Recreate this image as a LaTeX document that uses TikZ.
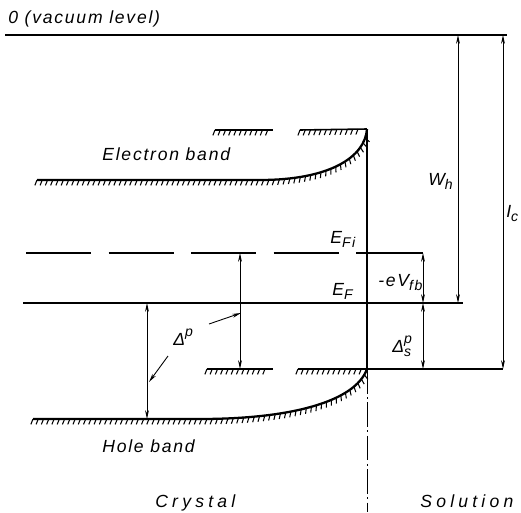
\documentclass[tikz,border=0pt]{standalone}
\usepackage{fontspec}
\setmainfont{Liberation Sans}
\usetikzlibrary{arrows.meta,decorations.pathreplacing}
\newcommand\lsub[1]{\raisebox{-0.5ex}{\footnotesize #1}}
\newcommand\lsup[1]{\raisebox{0.9ex}{\footnotesize #1}}

\begin{document}
\begin{tikzpicture}[x=0.02cm, y=0.02cm,
        every node/.style={inner sep=0pt, anchor=base west, font=\itshape\addfontfeature{LetterSpace=10}},
        lvl/.style={line width=0.6pt},
        band/.style={line width=1.3pt},
        hatch/.style={postaction={draw, line width=0.6pt, decorate,
            decoration={border, segment length=3pt, amplitude=3.3pt, angle=-112}}},
        span/.style={line width=0.5pt, {Stealth[length=5pt,width=2.2pt]}-{Stealth[length=5pt,width=2.2pt]}},
        pointer/.style={line width=0.5pt, -{Stealth[length=5pt,width=2.2pt]}},
        wide/.style={font=\itshape\addfontfeature{LetterSpace=24}}
        ]
    \useasboundingbox (0,0) rectangle (521,512);
    % interface
    \coordinate (ifTop) at (367,383);
    \coordinate (ifFi) at (367,259);
    \coordinate (ifBot) at (367,143);
    \coordinate (ifEnd) at (367,0);
    \draw[line width=1.5pt] (ifTop) -- (ifBot);
    \draw[line width=0.5pt, dash pattern=on 14pt off 2pt on 1pt off 2pt] (ifBot) -- (ifEnd);
    % levels
    \coordinate (vacL) at (5,477);   \coordinate (vacR) at (507,477);
    \coordinate (fiL) at (26,259);   \coordinate (fiR) at (423,259);
    \coordinate (fL) at (23,209);    \coordinate (fR) at (463,209);
    \coordinate (hsR) at (503,143);
    \draw[line width=0.8pt] (vacL) -- (vacR);
    \draw[lvl, dash pattern=on 37pt off 10pt] (fiL) -- (ifFi);
    \draw[lvl] (ifFi) -- (fiR);
    \draw[lvl] (fL) -- (fR);
    \draw[lvl] (ifBot) -- (hsR);
    % bands
    \draw[line width=0.9pt, hatch] (215,382) -- (273,382);
    \draw[line width=0.9pt, hatch] (300,382) -- (ifTop);
    \draw[band, hatch] (37,332) -- (260,332) .. controls (330,332) and (365,355) .. (ifTop);
    \draw[line width=0.9pt, hatch] (207,143) -- (273,143);
    \draw[line width=0.9pt, hatch] (298,143) -- (ifBot);
    \draw[band, hatch] (33,93) -- (200,93) .. controls (290,93) and (355,110) .. (ifBot);
    % spans
    \coordinate (dbTop) at (147,209); \coordinate (dbBot) at (147,93);
    \coordinate (dsTop) at (240,259); \coordinate (dsBot) at (240,143);
    \coordinate (vTop) at (423,259);  \coordinate (vMid) at (423,209);  \coordinate (vBot) at (423,143);
    \coordinate (wTop) at (458,477);  \coordinate (wBot) at (458,209);
    \coordinate (iTop) at (503,477);  \coordinate (iBot) at (503,143);
    \draw[span] (dbTop) -- (dbBot);
    \draw[span] (dsTop) -- (dsBot);
    \draw[span] (vTop) -- (vMid);
    \draw[span] (vMid) -- (vBot);
    \draw[span] (wTop) -- (wBot);
    \draw[span] (iTop) -- (iBot);
    % labels
    \node (vaclbl) at (8,489) {0 (vacuum level)};
    \node (elbl) at (102,352) {Electron band};
    \node (hlbl) at (102,60) {Hole band};
    \node (efilbl) at (330,269) {E\lsub{Fi}};
    \node (eflbl) at (332,217) {E\lsub{F}};
    \node (vfblbl) at (378,226) {-eV\lsub{fb}};
    \node (dslbl) at (392,160) {Δ\rlap{\lsup{p}}\lsub{s}};
    \node (whlbl) at (428,327) {W\lsub{h}};
    \node (iclbl) at (506,295) {I\lsub{c}};
    \node (dplbl) at (173,167) {Δ\lsup{p}};
    \node[wide] (crlbl) at (155,5) {Crystal};
    \node[wide] (sollbl) at (420,5) {Solution};
    % pointers
    \coordinate (p1a) at (209,188); \coordinate (p1b) at (241,199);
    \coordinate (p2a) at (168,156); \coordinate (p2b) at (149,130);
    \draw[pointer] (p1a) -- (p1b);
    \draw[pointer] (p2a) -- (p2b);
\end{tikzpicture}
\end{document}
